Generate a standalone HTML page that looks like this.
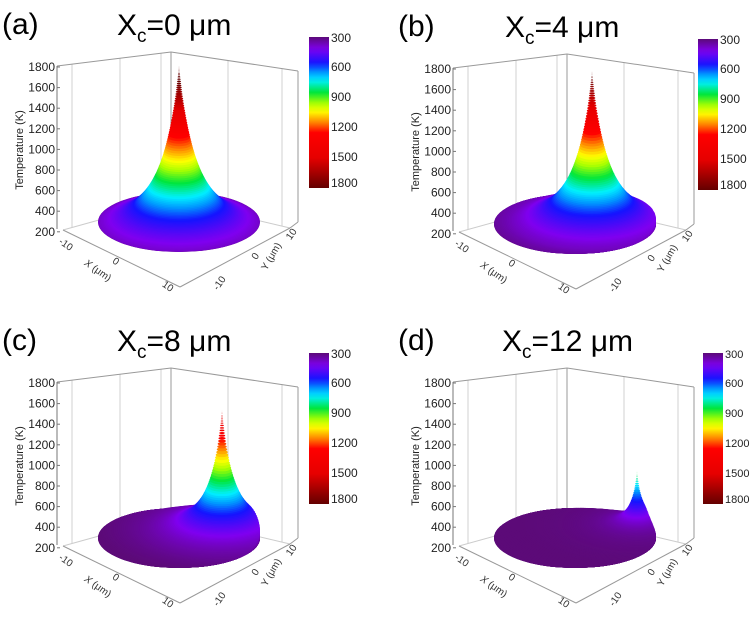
<!DOCTYPE html>
<html><head><meta charset="utf-8"><style>
html,body{margin:0;padding:0;background:#fff}
svg{display:block}
text{font-family:"Liberation Sans",sans-serif}
</style></head><body>
<svg id="s" width="750" height="621" viewBox="0 0 750 621" xmlns="http://www.w3.org/2000/svg">
<defs id="d"></defs>
<g id="g"></g>
</svg>
<script>
const stops=[[300,[92,10,120]],[420,[128,0,240]],[560,[20,20,255]],[650,[0,150,255]],[730,[0,240,255]],[850,[0,230,60]],[960,[170,255,0]],[1040,[255,255,0]],[1150,[255,130,0]],[1250,[255,0,0]],[1500,[230,0,0]],[1800,[100,0,0]]];
function col(T){
 if(T<=stops[0][0])return 'rgb('+stops[0][1]+')';
 for(let i=1;i<stops.length;i++){if(T<=stops[i][0]){const a=stops[i-1],b=stops[i];const f=(T-a[0])/(b[0]-a[0]);
 return 'rgb('+a[1].map((v,k)=>Math.round(v+(b[1][k]-v)*f)).join(',')+')';}}
 return 'rgb('+stops[stops.length-1][1]+')';}
const defs=document.getElementById('d');const G=document.getElementById('g');
let lg='<linearGradient id="cb" x1="0" y1="0" x2="0" y2="1">';
for(let i=0;i<=30;i++){const T=300+1500*i/30;lg+='<stop offset="'+(i/30)+'" stop-color="'+col(T)+'"/>';}
lg+='</linearGradient>';defs.insertAdjacentHTML('beforeend',lg);
let cid=0;
function panel(ox,oy,p){
 let s='<g transform="translate('+ox+','+oy+')">';
 s+='<text x="2" y="34" font-size="30">('+p.lab+')</text>';
 s+='<text x="'+p.tx+'" y="35" font-size="30">X<tspan font-size="19" dy="7">c</tspan><tspan dy="-7">='+p.v+' μm</tspan></text>';
 function ln(x1,y1,x2,y2,c,w){s+='<line x1="'+x1+'" y1="'+y1+'" x2="'+x2+'" y2="'+y2+'" stroke="'+c+'" stroke-width="'+(w||1)+'"/>';}
 const ty=x=>x<=171?66-(x-57)*14/114:52+(x-171)*19/127;
 const by=x=>x<=171?230-(x-63)*30/108:200+(x-171)*28/119;
 [72,120,161,228,282].forEach(x=>ln(x,ty(x),x,by(x),'#d0d0d0'));
 ln(171,52,171,200,'#999');
 ln(57,66,171,52,'#999');ln(171,52,298,71,'#999');
 ln(298,71,298,222,'#999');
 ln(63,230,171,200,'#ccc');ln(171,200,290,228,'#ccc');
 ln(57,66,57,229,'#777');
 ln(63,230,180,287,'#999');ln(180,287,290,228,'#999');ln(290,228,298,222,'#999');
 for(let i=0;i<9;i++){const y=67+i*20.6;s+='<text x="55" y="'+(y+4)+'" font-size="12" text-anchor="end" fill="#222">'+(1800-200*i)+'</text>';ln(57,y,60,y,'#777');}
 s+='<text transform="translate(23,150) rotate(-90)" font-size="11" text-anchor="middle" fill="#222">Temperature (K)</text>';
 function rt(x,y,a,t,fs){s+='<text transform="translate('+x+','+y+') rotate('+a+')" font-size="'+(fs||10)+'" text-anchor="middle" fill="#333">'+t+'</text>';}
 rt(64,247,35,'-10');rt(114,264,35,'0');rt(166,289,35,'10');
 rt(96,273,35,'<tspan font-style="italic">X</tspan> (μm)');
 rt(294,236,-55,'10');rt(258,258,-55,'0');rt(222,285,-55,'-10');
 rt(274,258,-60,'Y (μm)');
 const cx=179,cy=222,RX=81,RY=30,k=0.105*(p.hs||1);
 s+='<ellipse cx="'+cx+'" cy="'+cy+'" rx="'+RX+'" ry="'+RY+'" fill="'+col(300)+'"/>';
 const g=r=>1/Math.pow(1+r/p.a,2);
 const g1=g(1);
 const R=1+Math.hypot(p.dx/RX,p.dy/RY);
 const N=110;
 for(let i=N;i>=1;i--){
  const r=R*Math.pow(i/N,2);
  const gv=g(r);
  let h=p.P*(gv-g1)*k; if(h<0)h=0;
  let Tc=300+p.P*Math.max(0,(gv-0.5*g1)/(1-0.5*g1));
  const id='c'+(cid++);
  defs.insertAdjacentHTML('beforeend','<clipPath id="'+id+'"><ellipse cx="'+cx+'" cy="'+(cy-h)+'" rx="'+RX+'" ry="'+RY+'"/></clipPath>');
  s+='<ellipse clip-path="url(#'+id+')" cx="'+(cx+p.dx)+'" cy="'+(cy+p.dy-h)+'" rx="'+(RX*r)+'" ry="'+(RY*r)+'" fill="'+col(Tc)+'"/>';
 }
 s+='<rect x="'+p.cb+'" y="37" width="20" height="151" fill="url(#cb)"/>';
 for(let i=0;i<6;i++){s+='<text x="'+(p.cb+22)+'" y="'+(37+i*30+(i==0?5:i==5?0:4))+'" font-size="'+p.fs+'" fill="#222">'+(300+300*i)+'</text>';}
 s+='</g>';
 G.insertAdjacentHTML('beforeend',s);
}
const nP=(v,a)=>v/(1-1/Math.pow(1+1/a,2));
panel(0,0,{lab:'a',tx:117,v:'0',dx:0,dy:0,P:nP(1500,0.45),a:0.45,cb:309,fs:12});
panel(396,2,{lab:'b',tx:109,v:'4',dx:17,dy:-4,P:nP(1430,0.42),a:0.42,cb:302,fs:12});
panel(0,316,{lab:'c',tx:117,v:'8',dx:43,dy:-10,P:nP(1200,0.3),a:0.3,hs:0.95,cb:309,fs:12});
panel(396,316,{lab:'d',tx:106,v:'12',dx:62,dy:-14,P:580,a:0.15,hs:0.9,cb:307,fs:11});
</script>
</body></html>
